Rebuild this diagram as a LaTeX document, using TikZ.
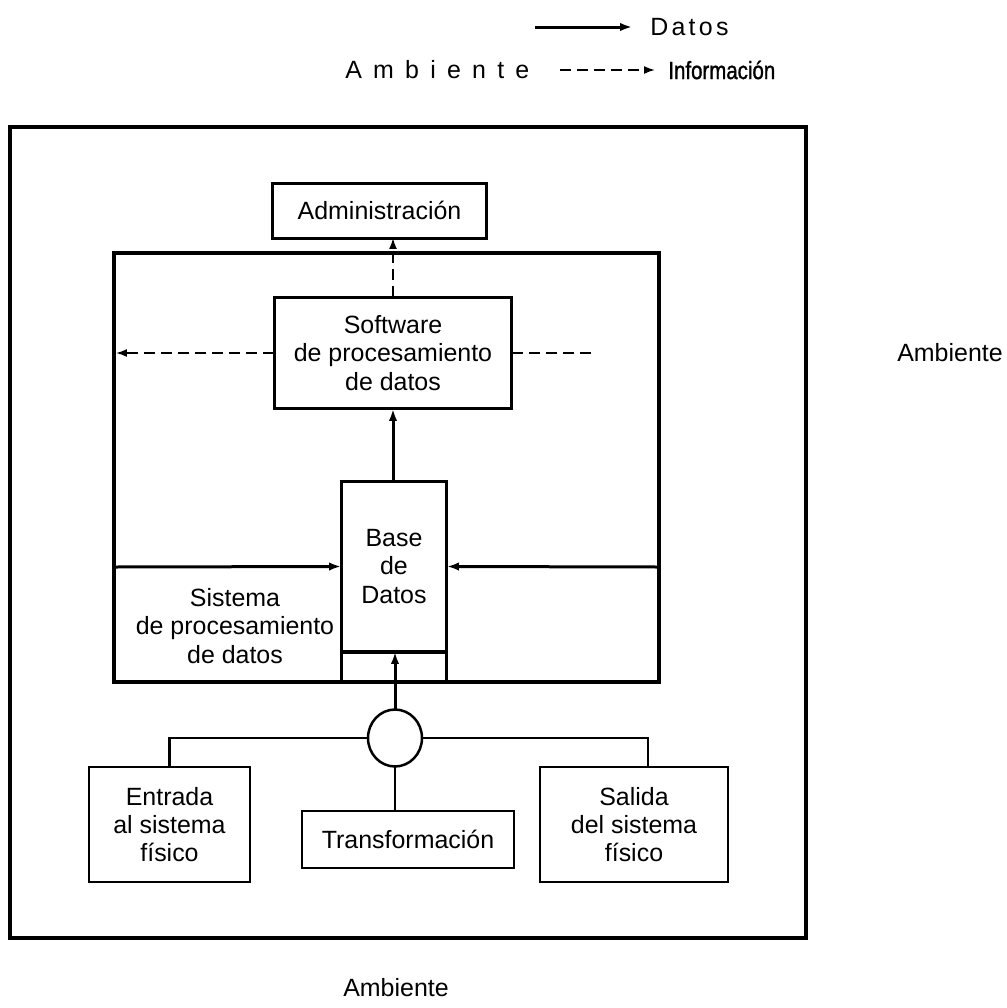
\documentclass[tikz,border=0pt]{standalone}
\usepackage{fontspec}
\setmainfont{Liberation Sans}
\usetikzlibrary{arrows.meta,shapes.geometric}
\tikzset{
	box/.style={draw,line width=0.06cm,inner sep=0pt,outer sep=0pt,align=center},
	lowbox/.style={box,line width=0.05cm},
	link/.style={line width=0.045cm},
	flow/.style={-{Latex[length=0.24cm,width=0.17cm]},line width=0.06cm},
	info/.style={-{Latex[length=0.22cm,width=0.16cm]},line width=0.035cm,dash pattern=on 0.22cm off 0.12cm},
}

\begin{document}
\begin{tikzpicture}[x=0.02cm,y=-0.02cm,font=\fontsize{14.2}{16}\selectfont]
		\useasboundingbox (0,0) rectangle (1007,1008);
		\draw[line width=0.09cm] (10,127) rectangle (806,938);
		\draw[line width=0.07cm] (114,253) rectangle (659,682);
		\node[box,minimum width=4.3cm,minimum height=1.1cm] (admin) at (379.5,210.5) {Administración};
		\node[box,minimum width=4.76cm,minimum height=2.24cm] (software) at (393,353) {Software\\de procesamiento\\de datos};
		\node[box,minimum width=2.12cm,minimum height=3.42cm] (base) at (394,566.5) {Base\\de\\Datos};
		\node[box,minimum width=2.12cm,minimum height=0.6cm] (basein) at (394,667) {};
		\node[align=center] (sistema) at (235,626) {Sistema\\de procesamiento\\de datos};
		\node[lowbox,shape=ellipse,minimum width=1.08cm,minimum height=1.14cm] (circ) at (395,738) {};
		\node[lowbox,minimum width=3.22cm,minimum height=2.3cm] (entrada) at (169.5,824.5) {Entrada\\al sistema\\físico};
		\node[lowbox,minimum width=4.24cm,minimum height=1.14cm] (transf) at (408,839.5) {Transformación};
		\node[lowbox,minimum width=3.76cm,minimum height=2.3cm] (salida) at (634,824.5) {Salida\\del sistema\\físico};
		\node (ambR) at (950,353) {Ambiente};
		\node (ambB) at (396,988) {Ambiente};
		\node[anchor=west,inner sep=0pt] (ambL) at (345,70) {\addfontfeature{LetterSpace=45}Ambiente};
		\node[anchor=west,inner xsep=0.36cm,inner ysep=0pt] (datos) at (632,27) {\addfontfeature{LetterSpace=13}Datos};
		\node[anchor=west,inner xsep=0.26cm,inner ysep=0pt] (informacion) at (655,70) {\addfontfeature{FakeStretch=0.82,FakeBold=1.2}Información};
		\coordinate (legD) at (535,27);
		\coordinate (legI) at (560,70);
		\coordinate (sysL) at (114,567);
		\coordinate (sysR) at (659,567);
		\coordinate (infoL) at (116,353);
		\coordinate (infoR) at (595,353);
		\draw[flow] (legD) -- (datos.west);
		\draw[info] (legI) -- (informacion.west);
		\draw[flow] (sysL) -- (base.west);
		\draw[flow] (sysR) -- (base.east);
		\draw[flow] (base.north -| software.south) -- (software.south);
		\draw[flow] (circ.north) -- (base.south -| circ.north);
		\draw[info] (software.north) -- (software.north |- admin.south);
		\draw[info] (software.west) -- (infoL);
		\draw[info,-] (software.east) -- (infoR);
		\draw[link] (circ.west) -| (entrada.north);
		\draw[link] (circ.east) -| ([xshift=0.28cm]salida.north);
		\draw[link] (circ.south) -- (circ.south |- transf.north);
	\end{tikzpicture}
\end{document}
